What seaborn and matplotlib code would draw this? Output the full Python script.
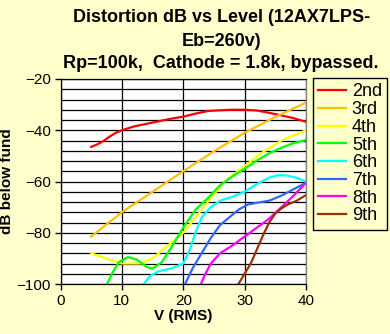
import numpy as np
import pandas as pd
import matplotlib
matplotlib.use("Agg")
import matplotlib.pyplot as plt
import seaborn as sns

# Harmonic distortion (dB below fundamental) vs output level (V RMS)
h2_v  = [5, 6, 7, 8, 9, 10, 12, 14, 16, 18, 20, 22, 24, 26, 28, 30, 32, 34, 36, 38, 40]
h2_db = [-46.5, -45.5, -44.2, -42.5, -41.0, -40.0, -38.5, -37.5, -36.5, -35.5, -34.7,
         -33.5, -32.5, -32.2, -32.0, -32.0, -32.3, -33.2, -34.2, -35.3, -36.7]

h3_v  = [5, 10, 15, 20, 25, 30, 35, 40]
h3_db = [-81.5, -72.0, -64.0, -56.0, -48.2, -41.0, -34.8, -29.2]

h4_v  = [5, 8, 10, 13, 15, 17, 20, 22, 25, 27, 30, 33, 36, 38, 40]
h4_db = [-88.0, -90.5, -92.0, -92.0, -90.0, -86.0, -80.0, -74.0, -65.0, -59.5,
         -54.0, -48.5, -44.0, -42.0, -40.0]

h5_v  = [7.6, 8.5, 9.5, 11, 12.5, 14, 15, 16.5, 18, 20, 22, 24, 26, 28, 30, 32, 34, 36, 38, 40]
h5_db = [-100.0, -95.5, -91.5, -89.5, -90.5, -93.3, -94.0, -91.5, -86.0, -78.0,
         -71.0, -66.5, -61.5, -58.0, -55.0, -51.8, -49.0, -46.8, -45.0, -43.8]

h6_v  = [13.6, 14.5, 16, 18, 20, 21, 22, 23, 24.5, 26, 28, 30, 32, 34, 35.5, 37, 38.5, 40]
h6_db = [-100.0, -97.0, -95.0, -94.0, -92.0, -87.0, -80.0, -74.0, -70.0, -67.5,
         -66.0, -64.0, -61.0, -58.5, -57.5, -57.7, -58.6, -60.0]

h7_v  = [20.3, 21.5, 23, 24.5, 26, 27.5, 29, 30.5, 32, 34, 36, 38, 40]
h7_db = [-100.0, -94.0, -88.0, -82.0, -77.0, -74.0, -71.0, -69.0, -68.3, -67.5,
         -65.5, -63.0, -60.5]

h8_v  = [22.9, 23.5, 24.5, 26, 28, 30, 32, 34, 36, 38, 40]
h8_db = [-100.0, -96.5, -92.0, -88.0, -85.0, -81.5, -78.0, -74.5, -70.0, -65.5, -60.5]

h9_v  = [29, 30, 31, 32, 33, 34, 35, 36, 37, 38.5, 40]
h9_db = [-100.0, -96.0, -92.0, -86.5, -81.0, -76.0, -72.5, -70.5, -69.0, -67.5, -65.3]

harmonics = ["2nd", "3rd", "4th", "5th", "6th", "7th", "8th", "9th"]
series_v  = [h2_v, h3_v, h4_v, h5_v, h6_v, h7_v, h8_v, h9_v]
series_db = [h2_db, h3_db, h4_db, h5_db, h6_db, h7_db, h8_db, h9_db]
colors = ["#FF0000", "#FFC000", "#FFFF00", "#00FF00",
          "#00FFFF", "#3366FF", "#FF00FF", "#993300"]

x_ticks = [0, 10, 20, 30, 40]
y_ticks = [-100, -80, -60, -40, -20]

df = pd.concat(
    [pd.DataFrame({"V": v, "dB": d, "Harmonic": name})
     for name, v, d in zip(harmonics, series_v, series_db)],
    ignore_index=True,
)

plt.rcParams["font.family"] = ["Liberation Sans", "DejaVu Sans"]

bg = "#FFFFCC"
fig = plt.figure(figsize=(3.9, 3.34), dpi=100, facecolor=bg)
ax = fig.add_axes([60.5 / 390, 1 - 284 / 334, (306 - 60.5) / 390, (284 - 79) / 334])
ax.set_facecolor("white")

sns.lineplot(data=df, x="V", y="dB", hue="Harmonic", hue_order=harmonics,
             palette=colors, estimator=None, sort=False, linewidth=1.6,
             ax=ax, legend=False, clip_on=True)

ax.set_xlim(0, 40)
ax.set_ylim(-100, -20)
ax.set_xticks(x_ticks)
ax.set_yticks(y_ticks)
ax.set_yticks(np.arange(-100, -19, 4), minor=True)
ax.tick_params(axis="both", which="major", labelsize=11, length=4, width=1,
               color="black", direction="out", pad=3)
ax.tick_params(axis="y", which="minor", length=0)
ax.grid(True, axis="y", which="both", color="black", linewidth=0.9)
ax.grid(True, axis="x", which="major", color="black", linewidth=0.9)
ax.set_axisbelow(True)
for s in ax.spines.values():
    s.set_color("black")
    s.set_linewidth(0.9)
ax.spines["right"].set_color("#808080")

ax.set_xlabel("V (RMS)", fontsize=11, fontweight="bold", labelpad=1)
ax.set_ylabel("dB below fund", fontsize=11, fontweight="bold", labelpad=2)

fig.text(222 / 390, 1 - 17 / 334, "Distortion dB vs Level (12AX7LPS-",
         ha="center", va="center", fontsize=13, fontweight="bold")
fig.text(222 / 390, 1 - 41 / 334, "Eb=260v)",
         ha="center", va="center", fontsize=13, fontweight="bold")
fig.text(221 / 390, 1 - 64 / 334, "Rp=100k,  Cathode = 1.8k, bypassed.",
         ha="center", va="center", fontsize=13, fontweight="bold")

handles = [plt.Line2D([], [], color=c, linewidth=1.6) for c in colors]
leg = fig.legend(handles, harmonics, loc="upper left",
                 bbox_to_anchor=(313 / 390, 1 - 78 / 334),
                 bbox_transform=fig.transFigure, fontsize=13,
                 frameon=True, fancybox=False, framealpha=1,
                 facecolor=bg, edgecolor="black", borderaxespad=0,
                 handlelength=1.5, handletextpad=0.35, labelspacing=0.04,
                 borderpad=0.3)
leg.get_frame().set_linewidth(1)

fig.savefig("out.png", dpi=100, facecolor=bg)
